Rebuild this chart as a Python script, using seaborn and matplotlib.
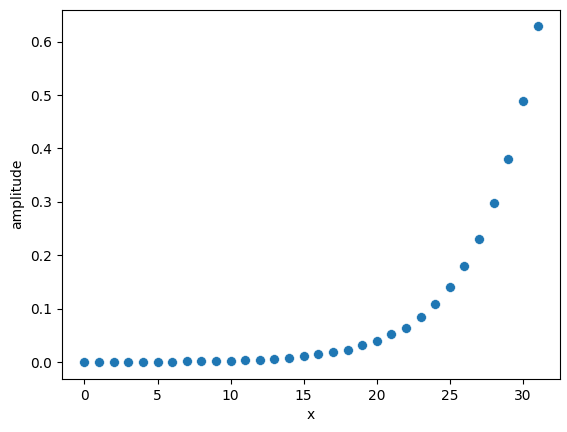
import matplotlib
matplotlib.use('Agg')
import matplotlib.pyplot as plt
import seaborn as sns
import pandas as pd

# valores
x = list(range(32))
amplitude = [0.0005, 0.0006, 0.0007, 0.0008, 0.0009, 0.0010, 0.0014, 0.0016,
             0.0019, 0.0022, 0.0032, 0.0036, 0.0052, 0.0070, 0.0090, 0.0113,
             0.0150, 0.0190, 0.0240, 0.0315, 0.0390, 0.0525, 0.0650, 0.0842,
             0.1085, 0.1400, 0.1795, 0.2315, 0.2975, 0.3810, 0.4895, 0.6285]

df = pd.DataFrame({'x': x, 'amplitude': amplitude})

fig = plt.figure(figsize=(5.67, 4.32), dpi=100)
ax = fig.add_subplot(111)
fig.subplots_adjust(left=0.109, right=0.988, bottom=0.123, top=0.978)
sns.scatterplot(data=df, x='x', y='amplitude', ax=ax, s=50, color='#1f77b4',
                edgecolor='white', linewidth=0.4)
ax.set_xlabel('x')
ax.set_ylabel('amplitude')
fig.savefig('out.png', dpi=100)
